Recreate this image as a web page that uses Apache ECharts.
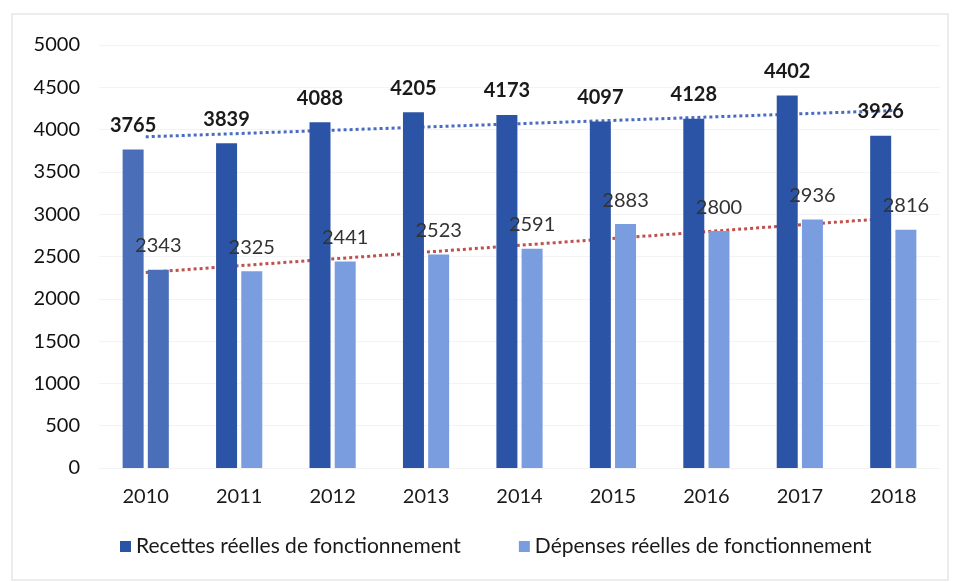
<!DOCTYPE html>
<html>
<head>
<meta charset="utf-8">
<script src="https://cdn.jsdelivr.net/npm/echarts@6/dist/echarts.min.js"></script>
<style>
  html, body { margin: 0; padding: 0; background: #fff; }
  #chart { width: 958px; height: 582px; }
</style>
</head>
<body>
<div id="chart"></div>
<script>
// données
const years = ['2010', '2011', '2012', '2013', '2014', '2015', '2016', '2017', '2018']
const recettes = [3765, 3839, 4088, 4205, 4173, 4097, 4128, 4402, 3926]
const depenses = [2343, 2325, 2441, 2523, 2591, 2883, 2800, 2936, 2816]
// courbes de tendance (début 2010, fin 2018)
const trendRecettes = [3915, 4225]
const trendDepenses = [2310, 2955]

const darkBlue = '#2b54a6'
const lightBlue = '#7a9de0'
const firstYearBlue = '#4a6fb8' // les deux barres 2010 ont la même teinte

const chart = echarts.init(document.getElementById('chart'))

const toBars = (vals) => vals.map((v, i) => {
    if (i === 0) return { value: v, itemStyle: { color: firstYearBlue } }
    return v
})

const option = {
    animation: false,
    textStyle: { fontFamily: 'Lato, "Noto Sans", sans-serif' },
    graphic: [
        {
            type: 'rect',
            shape: { x: 12, y: 14, width: 936, height: 566 },
            style: { fill: 'none', stroke: '#e6e6e6', lineWidth: 1.5 }
        }
    ],
    grid: { left: 99, right: 18, top: 45, bottom: 114 },
    legend: {
        bottom: 20,
        left: 115,
        itemGap: 58,
        itemWidth: 11,
        itemHeight: 11,
        icon: 'rect',
        textStyle: { fontSize: 21, color: '#1a1a1a' },
        data: ['Recettes réelles de fonctionnement', 'Dépenses réelles de fonctionnement']
    },
    xAxis: {
        type: 'category',
        data: years,
        axisLine: { show: false },
        axisTick: { show: false },
        axisLabel: { fontSize: 20, color: '#1a1a1a', margin: 19 }
    },
    yAxis: {
        type: 'value',
        min: 0,
        max: 5000,
        interval: 500,
        axisLabel: { fontSize: 20, color: '#111', margin: 19, formatter: (v) => String(v) },
        splitLine: { lineStyle: { color: '#f3f3f3' } }
    },
    series: [
        {
            name: 'Recettes réelles de fonctionnement',
            type: 'bar',
            barWidth: 21,
            barGap: '20%',
            color: darkBlue,
            data: toBars(recettes),
            label: {
                show: true,
                position: 'top',
                distance: 14,
                fontSize: 20,
                fontWeight: 'bold',
                color: '#1a1a1a'
            }
        },
        {
            name: 'Dépenses réelles de fonctionnement',
            type: 'bar',
            barWidth: 21,
            color: lightBlue,
            data: toBars(depenses),
            label: {
                show: true,
                position: 'top',
                distance: 14,
                fontSize: 20,
                color: '#333'
            }
        },
        {
            // tendance recettes
            type: 'line',
            data: [[0, trendRecettes[0]], [8, trendRecettes[1]]],
            symbol: 'none',
            z: 1,
            lineStyle: { type: 'dotted', width: 3, color: '#4a6cc0' },
            silent: true
        },
        {
            // tendance dépenses
            type: 'line',
            data: [[0, trendDepenses[0]], [8, trendDepenses[1]]],
            symbol: 'none',
            z: 1,
            lineStyle: { type: 'dotted', width: 3, color: '#c0504d' },
            silent: true
        }
    ]
}
chart.setOption(option)
</script>
</body>
</html>
